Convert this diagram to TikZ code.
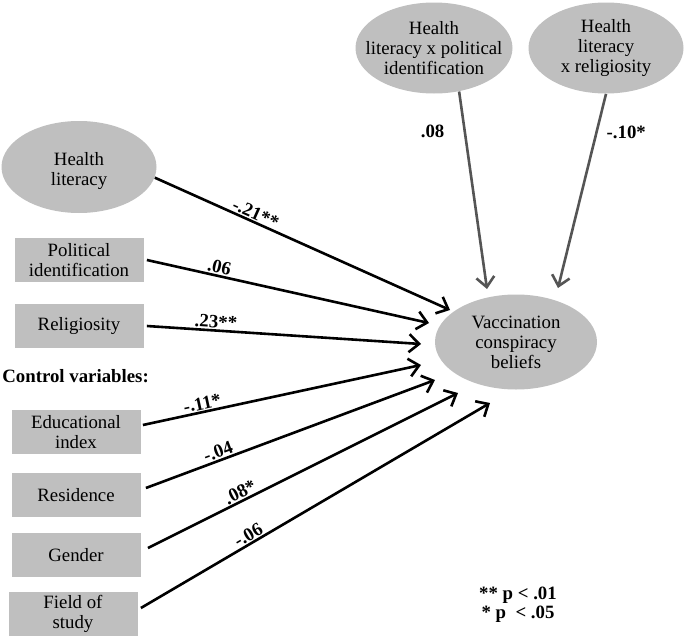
\documentclass[tikz,border=0pt]{standalone}
\usepackage{fontspec}
\setmainfont{Liberation Serif}
\usetikzlibrary{shapes.geometric,arrows.meta,positioning}

\definecolor{nodegray}{RGB}{191,191,191}
\definecolor{modgray}{RGB}{85,85,85}

\tikzset{
  oval/.style={ellipse, fill=nodegray, inner sep=0pt},
  var/.style={rectangle, fill=nodegray, minimum width=64.5pt, minimum height=22pt, align=center, inner sep=1pt},
  effect/.style={line width=1.3pt, -{Straight Barb[length=5pt,width=9pt]}},
  coef/.style={font=\fontsize{9.4}{10}\selectfont\bfseries, inner sep=0.5pt},
}

\begin{document}
\begin{tikzpicture}[x=0.5pt, y=-0.5pt, font=\fontsize{9.4}{10}\selectfont]
  \useasboundingbox (0,0) rectangle (685,637);

  % Outcome and moderators
  \node[oval, minimum width=81pt, minimum height=47.5pt,
        label={[align=center]center:Vaccination\\conspiracy\\beliefs}] (vcb) at (516,342) {};
  \node[oval, minimum width=78.5pt, minimum height=45.5pt,
        label={[align=center]center:Health\\literacy x political\\identification}] (hxp) at (434,48) {};
  \node[oval, minimum width=77.5pt, minimum height=45.5pt,
        label={[align=center]center:Health\\literacy\\x religiosity}] (hxr) at (606,48) {};

  % Predictors
  \node[oval, minimum width=77.5pt, minimum height=46pt,
        label={[align=center, yshift=-2pt]center:Health\\literacy}] (hl) at (79,167) {};
  \node[var] (pol) at (79,260) {Political\\identification};
  \node[var] (rel) at (79,326) {Religiosity};

  % Controls
  \node[font=\fontsize{9.4}{10}\selectfont\bfseries, anchor=west, inner sep=0pt] (ctrl) at (2,376) {Control variables:};
  \node[var] (edu) at (76,432) {Educational\\index};
  \node[var] (res) at (76,495) {Residence};
  \node[var] (gen) at (76,555) {Gender};
  \node[var] (fos) at (73,614) {Field of\\study};

  % Arrow ends near the outcome
  \coordinate (e1) at (450,310);
  \coordinate (e2) at (429,323);
  \coordinate (e3) at (421,344);
  \coordinate (e4) at (421,365);
  \coordinate (e5) at (435,380);
  \coordinate (e6) at (458,393);
  \coordinate (e7) at (490,403);
  \coordinate (e8) at (487,289);
  \coordinate (e9) at (558,288);

  % Paths
  \draw[effect] (hl.-8) -- node[coef, pos=0.33, above, sloped] {-.21**} (e1);
  \draw[effect] ([xshift=1.5pt]pol.east) -- node[coef, pos=0.25, above, sloped] {.06} (e2);
  \draw[effect] ([xshift=1.5pt]rel.east) -- node[coef, pos=0.25, above, sloped] {.23**} (e3);
  \draw[effect] ([shift={(1pt,3.5pt)}]edu.east) -- node[coef, pos=0.22, above, sloped] {-.11*} (e4);
  \draw[effect] ([shift={(2.5pt,3.5pt)}]res.east) -- node[coef, pos=0.26, above, sloped] {-.04} (e5);
  \draw[effect] ([shift={(3.5pt,3.5pt)}]gen.east) -- node[coef, pos=0.31, above, sloped] {.08*} (e6);
  \draw[effect] ([shift={(1.5pt,3pt)}]fos.east) -- node[coef, pos=0.32, above, sloped] {-.06} (e7);

  % Interaction paths
  \draw[effect, modgray] (hxp.-60) -- node[coef, pos=0.2, left=9pt, black] {.08} (e8);
  \draw[effect, modgray] (hxr.south) -- node[coef, pos=0.2, right=4pt, black] {-.10*} (e9);

  % Significance note
  \node[coef, align=center, font=\fontsize{9.4}{9.5}\selectfont\bfseries] (sig) at (518,605) {** p < .01\\* p\ \ < .05};
\end{tikzpicture}
\end{document}
